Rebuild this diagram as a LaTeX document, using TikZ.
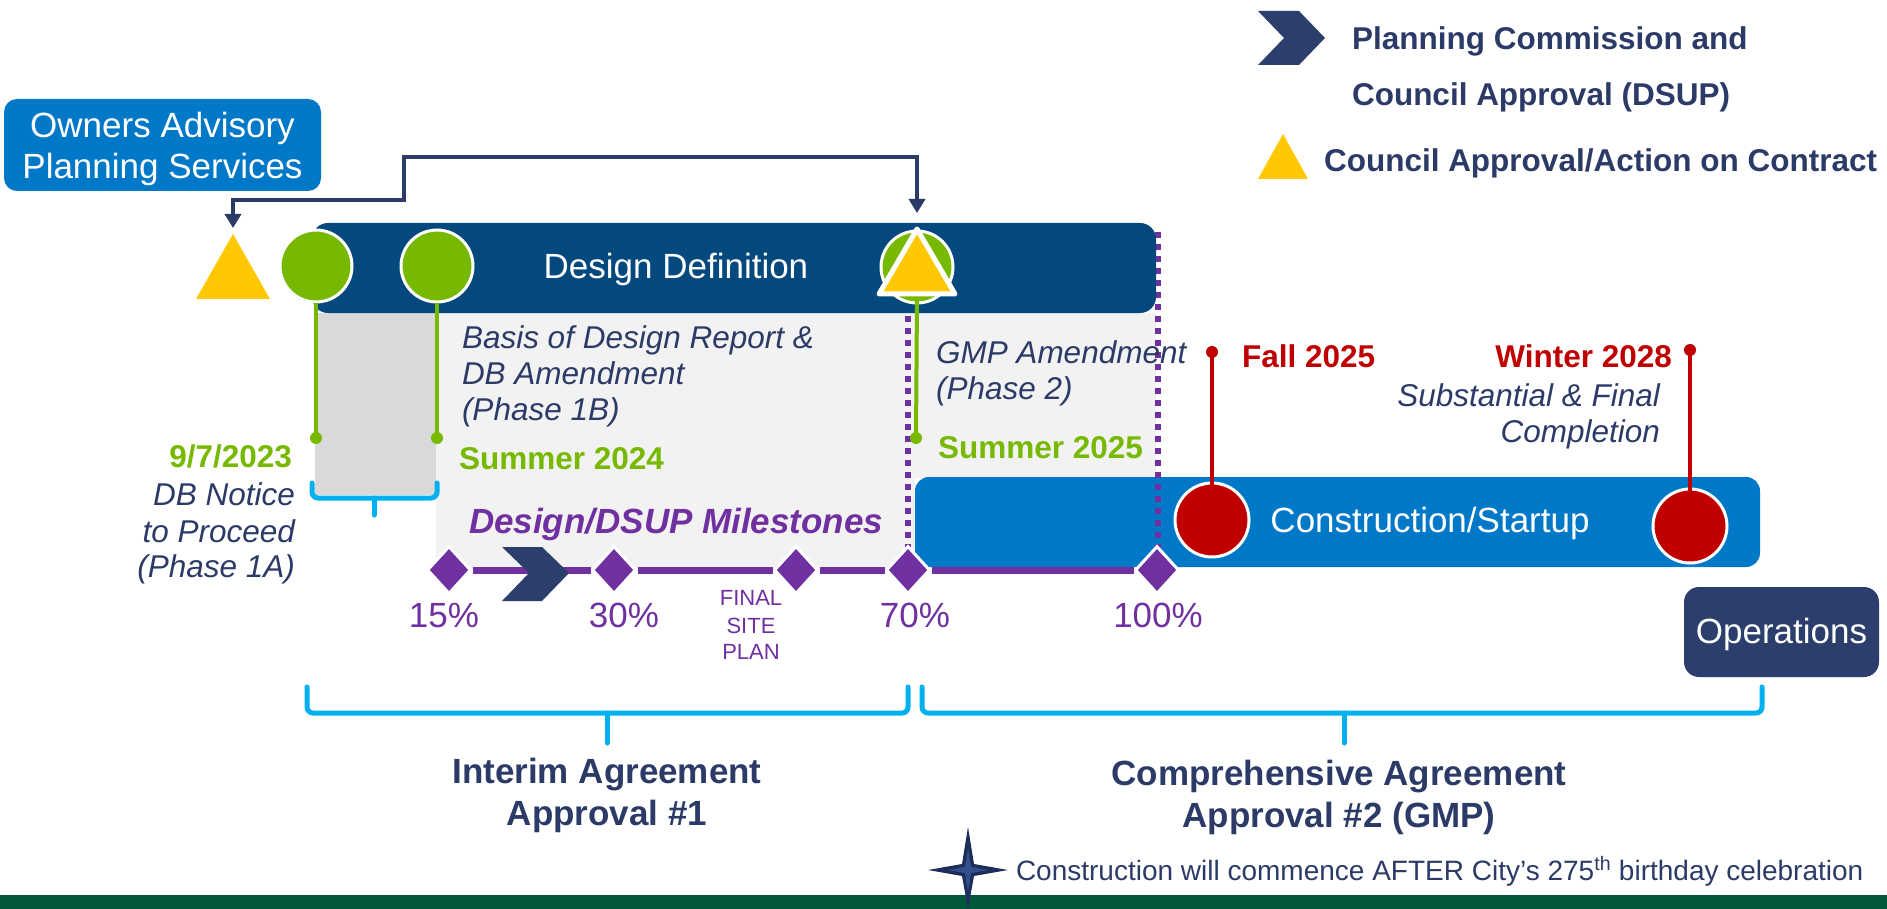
\documentclass[tikz,border=0pt]{standalone}
\usepackage{fontspec}
\setmainfont{Liberation Sans}
\usetikzlibrary{shapes.geometric,arrows.meta}

\definecolor{navy}{HTML}{2B3A67}
\definecolor{navyfill}{HTML}{2C3E6B}
\definecolor{dblue}{HTML}{03497E}
\definecolor{oblue}{HTML}{0078C8}
\definecolor{ogreen}{HTML}{76B900}
\definecolor{ored}{HTML}{C00000}
\definecolor{opurple}{HTML}{7030A0}
\definecolor{obrace}{HTML}{00B0F0}
\definecolor{oyellow}{HTML}{FFC800}
\definecolor{lgray}{HTML}{F2F2F2}
\definecolor{mgray}{HTML}{D9D9D9}
\definecolor{dgreen}{HTML}{02563B}
\definecolor{starnavy}{HTML}{1F2D5A}
\definecolor{starlight}{HTML}{34508A}

\newcommand\fsBig{\fontsize{35}{42}\selectfont}
\newcommand\fsMid{\fontsize{31.5}{38}\selectfont}
\newcommand\fsNote{\fontsize{28}{34}\selectfont}
\newcommand\fsTiny{\fontsize{22}{26}\selectfont}

\tikzset{
  lbl/.style={inner sep=0pt, outer sep=0pt},
  whitelbl/.style={lbl, text=white, font=\fsBig},
  notelbl/.style={lbl, text=navy, font=\fsMid\itshape},
  greenlbl/.style={lbl, text=ogreen, font=\fsMid\bfseries},
  redlbl/.style={lbl, text=ored, font=\fsMid\bfseries},
  pctlbl/.style={lbl, text=opurple, font=\fsBig},
  headlbl/.style={lbl, text=navy, font=\fsBig\bfseries},
  legendlbl/.style={lbl, text=navy, font=\fsMid\bfseries},
  milestone/.style={diamond, fill=opurple, draw=white, line width=3pt,
    minimum width=44pt, minimum height=48pt, inner sep=0pt},
  greencirc/.style={circle, fill=ogreen, draw=white, line width=3pt,
    minimum size=72pt, inner sep=0pt},
  redcirc/.style={circle, fill=ored, draw=white, line width=3pt,
    minimum size=74pt, inner sep=0pt},
  pin/.style={circle, minimum size=12pt, inner sep=0pt},
  stem/.style={line width=4pt},
  brace/.style={draw=obrace, line width=5pt, rounded corners=6pt, line cap=round},
  dotline/.style={draw=opurple, line width=6pt, dash pattern=on 6pt off 6pt},
  barbox/.style={inner sep=0pt, outer sep=0pt},
}

\begin{document}
\begin{tikzpicture}[x=1pt, y=-1pt]
\useasboundingbox (0,0) rectangle (1887,909);

% ---- shaded phase areas under the design bar
\fill[lgray] (436,313) rectangle (1156,478);
\fill[lgray] (436,478) rectangle (915,570);
\fill[mgray] (315,313) rectangle (436,495);

% ---- construction bar
\node[barbox, fill=oblue, rounded corners=14pt, minimum width=845pt, minimum height=90pt] (cbar) at (1337.5,522) {};
\node[whitelbl, anchor=base] (cbarT) at (1430,532) {Construction/Startup};

% ---- dotted 70% / 100% guides
\draw[dotline] (908,232) -- (908,548);
\draw[dotline] (1158,232) -- (1158,548);

% ---- design definition bar
\node[barbox, fill=dblue, rounded corners=16pt, minimum width=844pt, minimum height=90pt] (ddbar) at (734,268) {};
\node[whitelbl, anchor=base] (ddbarT) at (676,279) {Design Definition};

% ---- owners advisory box
\node[barbox, fill=oblue, rounded corners=13pt, minimum width=317pt, minimum height=92pt] (oaps) at (162.5,145) {};
\node[whitelbl, anchor=base] (oapsT1) at (162.5,138) {Owners Advisory};
\node[whitelbl, anchor=base] (oapsT2) at (162.5,179) {Planning Services};

% ---- operations box
\node[barbox, fill=navyfill, rounded corners=15pt, minimum width=195pt, minimum height=90pt] (ops) at (1781.5,632) {};
\node[whitelbl, anchor=base] (opsT) at (1781.5,643) {Operations};

% ---- brackets
\draw[brace] (312,483) -- (312,498) -- (437,498) -- (437,483);
\draw[brace] (374,498) -- (374,515);
\draw[brace] (307,687) -- (307,713) -- (908,713) -- (908,687);
\draw[brace] (607,713) -- (607,743);
\draw[brace] (922,687) -- (922,713) -- (1762,713) -- (1762,687);
\draw[brace] (1344,713) -- (1344,743);

% ---- design / DSUP milestone line
\node[milestone] (d15) at (449,570) {};
\node[milestone] (d30) at (614,570) {};
\node[milestone] (dfsp) at (796,570) {};
\node[milestone] (d70) at (908,570) {};
\node[milestone] (d100) at (1157,570) {};
\draw[opurple, line width=7pt] (d15.east) -- (d30.west);
\draw[opurple, line width=7pt] (d30.east) -- (dfsp.west);
\draw[opurple, line width=7pt] (dfsp.east) -- (d70.west);
\draw[opurple, line width=7pt] (d70.east) -- (d100.west);
\fill[navyfill] (502,547) -- (542,547) -- (569,573) -- (542,601) -- (502,601) -- (529,573) -- cycle;

\node[pctlbl, anchor=base] (p15) at (444,627) {15\%};
\node[pctlbl, anchor=base] (p30) at (624,627) {30\%};
\node[pctlbl, anchor=base] (p70) at (915,627) {70\%};
\node[pctlbl, anchor=base] (p100) at (1158,627) {100\%};
\node[lbl, text=opurple, font=\fsTiny, anchor=base] (fsp1) at (751,605) {FINAL};
\node[lbl, text=opurple, font=\fsTiny, anchor=base] (fsp2) at (751,633) {SITE};
\node[lbl, text=opurple, font=\fsTiny, anchor=base] (fsp3) at (751,659) {PLAN};
\node[lbl, text=opurple, font=\fsBig\bfseries\itshape, anchor=base west] (dsupT) at (469,533) {Design/DSUP Milestones};

% ---- green design milestones
\node[pin, fill=ogreen] (g1dot) at (316,438) {};
\node[pin, fill=ogreen] (g2dot) at (437,438) {};
\node[pin, fill=ogreen] (g3dot) at (916,438) {};
\node[greencirc] (g1) at (316,266) {};
\node[greencirc] (g2) at (437,266) {};
\draw[ogreen, stem] (g1.south) -- (g1dot.center);
\draw[ogreen, stem] (g2.south) -- (g2dot.center);
\node[greencirc] (g3) at (917,267) {};

% ---- council approval triangles
\fill[oyellow] (233,234) -- (270,299) -- (196,299) -- cycle;
\coordinate (tri1tip) at (233,228);
\filldraw[fill=oyellow, draw=white, line width=5pt, line join=round]
  (917,229) -- (955,294) -- (879,294) -- cycle;
\coordinate (tri2tip) at (917,213);
\coordinate (tri2base) at (917,297);
\draw[ogreen, stem] (tri2base) -- (g3dot.center);

% ---- approval link between the two triangles
\draw[navy, line width=3.5pt,
  {Triangle[width=16pt,length=14pt]}-{Triangle[width=16pt,length=14pt]}]
  (tri1tip) -- (233,200) -- (404,200) -- (404,157) -- (917,157) -- (tri2tip);

% ---- construction milestones
\node[pin, fill=ored] (fdot) at (1212,352) {};
\node[pin, fill=ored] (wdot) at (1690,350) {};
\node[redcirc] (fcirc) at (1212,520) {};
\node[redcirc] (wcirc) at (1690,526) {};
\draw[ored, stem] (fdot.center) -- (fcirc.center);
\draw[ored, stem] (wdot.center) -- (wcirc.center);

% ---- annotations
\node[greenlbl, anchor=base east] (dNtp) at (292,467) {9/7/2023};
\node[notelbl, anchor=base east] (ntp1) at (295,505) {DB Notice};
\node[notelbl, anchor=base east] (ntp2) at (295,542) {to Proceed};
\node[notelbl, anchor=base east] (ntp3) at (295,577) {(Phase 1A)};

\node[notelbl, anchor=base west] (bod1) at (462,348) {Basis of Design Report \&};
\node[notelbl, anchor=base west] (bod2) at (462,384) {DB Amendment};
\node[notelbl, anchor=base west] (bod3) at (462,420) {(Phase 1B)};
\node[greenlbl, anchor=base west] (dBod) at (459,469) {Summer 2024};

\node[notelbl, anchor=base west] (gmp1) at (936,363) {GMP Amendment};
\node[notelbl, anchor=base west] (gmp2) at (936,399) {(Phase 2)};
\node[greenlbl, anchor=base west] (dGmp) at (938,458) {Summer 2025};

\node[redlbl, anchor=base west] (dFall) at (1242,367) {Fall 2025};
\node[redlbl, anchor=base east] (dWin) at (1672,367) {Winter 2028};
\node[notelbl, anchor=base east] (sub1) at (1660,406) {Substantial \& Final};
\node[notelbl, anchor=base east] (sub2) at (1660,442) {Completion};

\node[headlbl, anchor=base] (ia1) at (607,783) {Interim Agreement};
\node[headlbl, anchor=base] (ia2) at (607,825) {Approval \#1};
\node[headlbl, anchor=base] (ca1) at (1339,785) {Comprehensive Agreement};
\node[headlbl, anchor=base] (ca2) at (1339,827) {Approval \#2 (GMP)};

% ---- legend
\fill[navyfill] (1258,11) -- (1299,11) -- (1325,38) -- (1299,65) -- (1258,65) -- (1284,38) -- cycle;
\node[legendlbl, anchor=base west] (legA1) at (1352,50) {Planning Commission and};
\node[legendlbl, anchor=base west] (legA2) at (1352,106) {Council Approval (DSUP)};
\fill[oyellow] (1283,134) -- (1308,179) -- (1258,179) -- cycle;
\node[legendlbl, anchor=base west] (legB) at (1324,172) {Council Approval/Action on Contract};

% ---- footer band, star and note
\fill[dgreen] (0,895) rectangle (1887,909);
\fill[starnavy] (968,827) -- (974,864) -- (1008,870) -- (974,876) -- (968,909)
  -- (962,876) -- (928,870) -- (962,864) -- cycle;
\fill[starlight] (968,848) -- (971,867) -- (988,870) -- (971,873) -- (968,892)
  -- (965,873) -- (948,870) -- (965,867) -- cycle;
\node[lbl, text=navy, font=\fsNote, anchor=base west] (note) at (1016,880)
  {Construction will commence AFTER City’s 275\textsuperscript{th} birthday celebration};

\end{tikzpicture}
\end{document}
